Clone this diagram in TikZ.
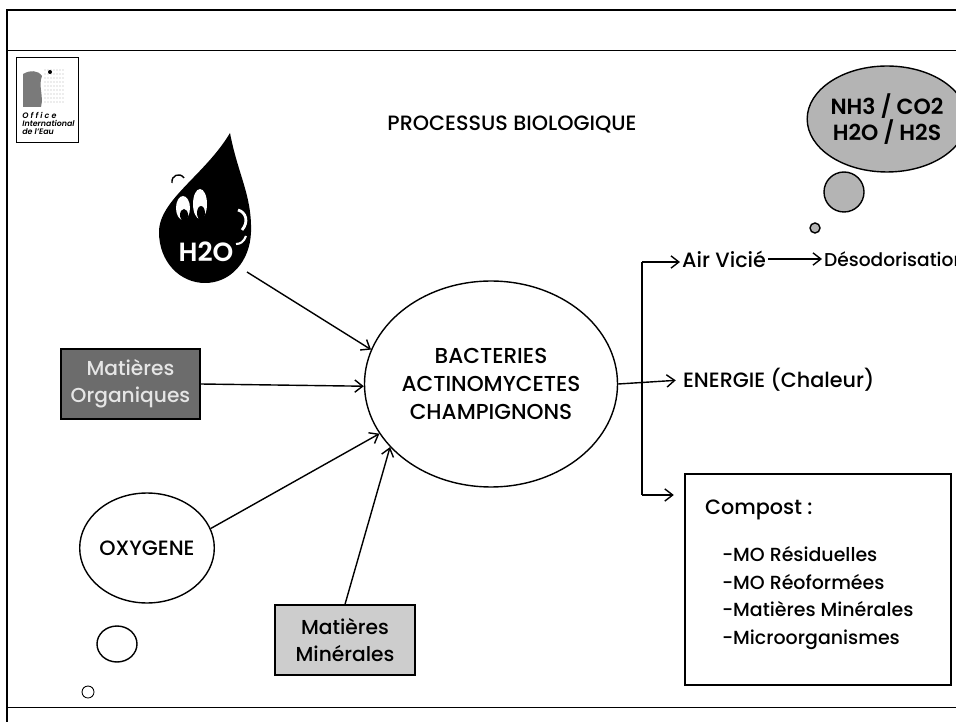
\documentclass[tikz,border=0pt]{standalone}
\usepackage{fontspec}
\setmainfont{Poppins}[UprightFont={* Medium}, BoldFont={* SemiBold}]
\usetikzlibrary{arrows.meta,shapes.geometric}
\definecolor{gaz}{HTML}{B4B4B4}
\definecolor{orgfill}{HTML}{6C6C6C}
\definecolor{minfill}{HTML}{CDCDCD}
\definecolor{logogray}{HTML}{7A7A7A}
\begin{document}
\begin{tikzpicture}[x=0.02cm,y=-0.02cm,
  every node/.style={font=\fontsize{11.8}{14}\selectfont, inner sep=1pt},
  arr/.style={line width=0.8pt, -{Straight Barb[length=4.5pt,width=7pt]}},
  link/.style={line width=0.8pt},
  bubble/.style={draw, line width=0.8pt, ellipse, inner sep=0pt},
  matbox/.style={draw, line width=0.8pt, inner sep=0pt, align=center,
    font=\fontsize{11.5}{15.5}\selectfont}]

\useasboundingbox (0,0) rectangle (956,722);

% page frame
\draw[line width=1.3pt] (7,722) -- (7,10) -- (956,10);
\draw[line width=0.5pt] (7,50) -- (956,50);
\draw[line width=0.5pt] (7,707) -- (956,707);

% logo
\draw[line width=0.5pt] (16,57) rectangle (78,142);
\fill[logogray] (23,74) .. controls (30,70) and (38,70) .. (42,76)
  .. controls (38,86) and (44,96) .. (41,107) -- (23,107) -- cycle;
\foreach \i in {0,...,6}{\foreach \j in {0,...,8}{
  \fill[gray!60] (45+3*\i,70+4*\j) circle (0.6);}}
\fill (50,72) circle (2);
\node[font=\fontsize{4.5}{4.6}\selectfont\bfseries\itshape, align=left, anchor=north west, inner sep=0pt]
  (logotext) at (22,112) {O f f i c e\\International\\de l'Eau};

% title
\node (title) at (512,125) {PROCESSUS BIOLOGIQUE};

% gas bubbles
\node[bubble, fill=gaz, minimum width=2.48cm, minimum height=2.12cm,
  align=center, font=\fontsize{12.5}{12.5}\selectfont\bfseries] (gaz) at (887,119)
  {NH3 / CO2\\H2O / H2S};
\node[bubble, fill=gaz, minimum size=0.8cm] (gazb) at (844,192) {};
\node[bubble, fill=gaz, minimum size=0.2cm] (gazc) at (815,228) {};

% water drop
\fill (230,133) .. controls (238,175) and (252,195) .. (251,232)
  .. controls (250,262) and (230,283) .. (205,283)
  .. controls (180,283) and (159,262) .. (159,232)
  .. controls (159,200) and (205,175) .. (230,133) -- cycle;
\fill[white] (183,208) ellipse [x radius=7, y radius=12];
\fill[white] (200,204) ellipse [x radius=7, y radius=15];
\fill (184,215) ellipse [x radius=4, y radius=6];
\fill (201,213) ellipse [x radius=4, y radius=7];
\draw[line width=0.8pt] (172,183) .. controls (171,175) and (180,172) .. (184,178);
\draw[white, line width=1.6pt] (238,210) .. controls (246,212) and (249,222) .. (242,230);
\draw[white, line width=1.2pt] (246,236) .. controls (244,242) and (240,244) .. (236,244);
\node[text=white, font=\fontsize{15}{16}\selectfont\bfseries] (h2o) at (206,252) {H2O};
\coordinate (h2oout) at (247,272);

% inputs
\node[matbox, fill=orgfill, text=white!90!black, minimum width=2.78cm, minimum height=1.4cm]
  (orga) at (130.5,384) {Matières\\Organiques};
\node[bubble, minimum width=2.56cm, minimum height=2.2cm] (oxy) at (147,548) {OXYGENE};
\node[bubble, minimum width=0.8cm, minimum height=0.72cm] (oxyb) at (117,644) {};
\node[bubble, line width=0.5pt, minimum size=0.24cm] (oxyc) at (88,692) {};
\node[matbox, fill=minfill, minimum width=2.8cm, minimum height=1.4cm]
  (mine) at (345,640) {Matières\\Minérales};

% central process
\node[draw, ellipse, line width=0.8pt, minimum width=4.32cm, minimum height=4.12cm,
  inner sep=0pt, align=center, font=\fontsize{12.3}{16}\selectfont] (bio) at (491,384)
  {BACTERIES\\ACTINOMYCETES\\CHAMPIGNONS};

\draw[arr] (h2oout) -- (bio.164);
\draw[arr] (orga.east) -- (bio.181);
\draw[arr] (oxy.17) -- (bio.204);
\draw[arr] (mine.north) -- (bio.212);

% outputs
\node[anchor=west] (air) at (680,259) {Air Vicié};
\node[anchor=west, font=\fontsize{10.6}{13}\selectfont] (deso) at (822,259) {Désodorisation};
\node[anchor=west] (energie) at (681,380) {ENERGIE (Chaleur)};
\node[draw, line width=0.8pt, minimum width=5.32cm, minimum height=4.22cm] (comp) at (818,579.5) {};
\node[anchor=west] (comptitle) at (703,510) {Compost :};
\node[anchor=west, align=left, font=\fontsize{10.8}{15.9}\selectfont] (complist) at (720,598)
  {-MO Résiduelles\\-MO Réoformées\\-Matières Minérales\\-Microorganismes};

\coordinate (ft) at (642,262);
\coordinate (fb) at (642,495);
\draw[link] (ft) -- (fb);
\draw[arr] (ft) -- (ft -| air.west);
\draw[arr] (air.east) -- (deso.west);
\draw[arr, shorten >=3pt] (bio.east) -- (energie.west);
\draw[arr, shorten >=6pt] (fb) -- (fb -| comp.west);

\end{tikzpicture}
\end{document}
